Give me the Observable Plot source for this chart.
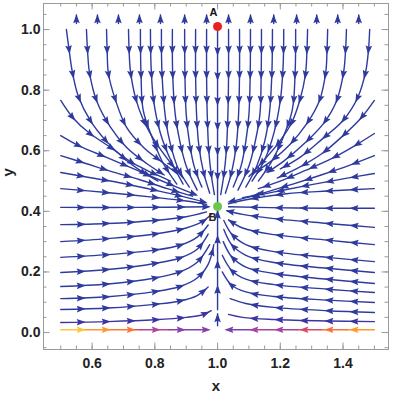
<!DOCTYPE html>
<html><head><meta charset="utf-8">
<script src="https://cdn.jsdelivr.net/npm/d3@7"></script>
<script src="https://cdn.jsdelivr.net/npm/@observablehq/plot@0.6"></script>
<style>body{margin:0;background:#fff} svg{display:block}</style>
</head><body><div id="chart"></div>
<script>
// ---------- data ----------
const xTickLabels = [0.6, 0.8, 1.0, 1.2, 1.4];
const yTickLabels = [0.0, 0.2, 0.4, 0.6, 0.8, 1.0];
const xMinorTicks = d3.range(0, 21).map(i => +(0.5 + i * 0.05).toFixed(2));
const yMinorTicks = d3.range(0, 23).map(i => +(-0.05 + i * 0.05).toFixed(2));

const pointNames = ["A", "B"];
const pointX = [1.0, 1.0];
const pointY = [1.01, 0.416];

// streamlines, listed in flow direction, [x, y]
const topLeftLines = [
  [[0.518,1.0],[0.527,0.93],[0.537,0.86],[0.556,0.78],[0.594,0.70],[0.642,0.635],[0.707,0.57],[0.76,0.53],[0.81,0.50]],
  [[0.582,1.0],[0.586,0.92],[0.592,0.855],[0.614,0.766],[0.659,0.677],[0.71,0.611],[0.774,0.558],[0.83,0.52]],
  [[0.646,1.0],[0.648,0.93],[0.652,0.855],[0.675,0.766],[0.71,0.677],[0.764,0.611],[0.82,0.565],[0.87,0.525]],
  [[0.716,1.0],[0.718,0.93],[0.722,0.865],[0.738,0.776],[0.764,0.70],[0.805,0.624],[0.85,0.56],[0.89,0.51]],
  [[0.754,1.0],[0.756,0.85],[0.763,0.733],[0.795,0.634],[0.827,0.558],[0.87,0.49]],
  [[0.786,1.0],[0.788,0.88],[0.796,0.766],[0.818,0.657],[0.85,0.57],[0.89,0.49]],
  [[0.821,1.0],[0.823,0.85],[0.835,0.70],[0.85,0.62],[0.873,0.545],[0.91,0.48]],
  [[0.856,1.0],[0.857,0.85],[0.865,0.72],[0.88,0.63],[0.90,0.55],[0.935,0.47]],
  [[0.895,1.0],[0.896,0.85],[0.90,0.72],[0.91,0.63],[0.925,0.55],[0.95,0.48]],
  [[0.93,1.0],[0.93,0.85],[0.933,0.72],[0.94,0.62],[0.955,0.53],[0.975,0.46]],
  [[0.965,1.0],[0.965,0.85],[0.967,0.72],[0.972,0.60],[0.98,0.52],[0.99,0.455]]
];
const topRightLines = [
  [[1.035,1.0],[1.035,0.85],[1.033,0.72],[1.028,0.60],[1.02,0.52],[1.01,0.455]],
  [[1.07,1.0],[1.07,0.85],[1.067,0.72],[1.06,0.62],[1.045,0.53],[1.025,0.46]],
  [[1.105,1.0],[1.104,0.85],[1.10,0.72],[1.09,0.63],[1.075,0.55],[1.05,0.48]],
  [[1.14,1.0],[1.139,0.85],[1.135,0.72],[1.12,0.63],[1.10,0.55],[1.065,0.47]],
  [[1.175,1.0],[1.173,0.85],[1.165,0.72],[1.15,0.63],[1.125,0.55],[1.09,0.48]],
  [[1.211,1.0],[1.209,0.88],[1.20,0.766],[1.18,0.66],[1.15,0.57],[1.11,0.50]],
  [[1.249,1.0],[1.247,0.85],[1.238,0.733],[1.205,0.634],[1.17,0.56],[1.13,0.50]],
  [[1.287,1.0],[1.285,0.93],[1.28,0.85],[1.262,0.766],[1.235,0.69],[1.19,0.62],[1.14,0.56],[1.10,0.515]],
  [[1.351,1.0],[1.349,0.93],[1.345,0.86],[1.325,0.766],[1.285,0.69],[1.23,0.62],[1.17,0.565],[1.12,0.53]],
  [[1.411,1.0],[1.408,0.93],[1.402,0.86],[1.38,0.766],[1.34,0.693],[1.28,0.627],[1.21,0.565],[1.16,0.53]],
  [[1.485,1.0],[1.481,0.93],[1.472,0.86],[1.447,0.776],[1.40,0.70],[1.335,0.64],[1.265,0.58],[1.20,0.54]]
];
const centerLines = [
  [[1.0,0.995],[1.0,0.43]],
  [[1.0,0.075],[1.0,0.40]],
  [[1.0,0.022],[1.0,0.062]]
];
const upArrowX = [0.55,0.617,0.684,0.751,0.818,0.895,0.965,1.035,1.105,1.179,1.252,1.316,1.383,1.45];
const upArrowY = [1.02, 1.048];

const sideLeftLines = [
  [[0.5,0.766],[0.538,0.71],[0.589,0.66],[0.659,0.611],[0.732,0.558],[0.796,0.525],[0.85,0.50]],
  [[0.5,0.65],[0.557,0.617],[0.646,0.578],[0.722,0.545],[0.80,0.51],[0.87,0.48],[0.93,0.455]],
  [[0.5,0.584],[0.58,0.558],[0.66,0.532],[0.75,0.505],[0.84,0.475],[0.92,0.45]],
  [[0.5,0.528],[0.6,0.51],[0.7,0.492],[0.8,0.47],[0.9,0.446],[0.96,0.43]],
  [[0.5,0.475],[0.646,0.462],[0.80,0.446],[0.90,0.434],[0.965,0.423]],
  [[0.5,0.413],[0.75,0.413],[0.97,0.415]]
];
const sideRightLines = [
  [[1.5,0.766],[1.459,0.71],[1.395,0.645],[1.332,0.59],[1.26,0.545],[1.19,0.51]],
  [[1.5,0.657],[1.43,0.612],[1.36,0.572],[1.28,0.535],[1.2,0.50],[1.13,0.475]],
  [[1.5,0.584],[1.42,0.552],[1.33,0.52],[1.24,0.49],[1.15,0.462],[1.08,0.445]],
  [[1.5,0.525],[1.40,0.507],[1.30,0.488],[1.20,0.468],[1.10,0.447],[1.04,0.432]],
  [[1.5,0.475],[1.35,0.467],[1.22,0.458],[1.10,0.44],[1.035,0.425]],
  [[1.5,0.41],[1.25,0.411],[1.035,0.415]]
];
const bottomLeftLines = [
  [[0.5,0.356],[0.65,0.36],[0.8,0.37],[0.9,0.382],[0.965,0.398]],
  [[0.5,0.30],[0.65,0.31],[0.8,0.325],[0.9,0.345],[0.95,0.365],[0.982,0.392]],
  [[0.5,0.248],[0.65,0.257],[0.8,0.272],[0.88,0.288],[0.935,0.315],[0.97,0.355]],
  [[0.5,0.198],[0.65,0.208],[0.8,0.228],[0.88,0.246],[0.935,0.275],[0.97,0.325]],
  [[0.5,0.152],[0.65,0.16],[0.8,0.18],[0.88,0.2],[0.935,0.232],[0.975,0.29]],
  [[0.5,0.112],[0.65,0.118],[0.8,0.135],[0.88,0.152],[0.935,0.18],[0.97,0.225],[0.988,0.29]],
  [[0.5,0.076],[0.65,0.081],[0.8,0.093],[0.88,0.104],[0.935,0.122],[0.97,0.15]],
  [[0.5,0.033],[0.65,0.036],[0.8,0.042],[0.9,0.05],[0.95,0.058],[0.98,0.072]]
];
const bottomRightLines = [
  [[1.5,0.347],[1.35,0.36],[1.18,0.376],[1.08,0.39],[1.03,0.402]],
  [[1.5,0.29],[1.35,0.305],[1.18,0.323],[1.08,0.345],[1.035,0.372]],
  [[1.5,0.234],[1.35,0.248],[1.18,0.267],[1.09,0.29],[1.045,0.325],[1.02,0.37]],
  [[1.5,0.198],[1.35,0.212],[1.18,0.231],[1.09,0.255],[1.045,0.29],[1.02,0.34]],
  [[1.5,0.162],[1.35,0.176],[1.18,0.195],[1.09,0.216],[1.045,0.25],[1.018,0.30]],
  [[1.5,0.132],[1.35,0.143],[1.18,0.158],[1.09,0.176],[1.045,0.205],[1.015,0.255]],
  [[1.5,0.099],[1.35,0.107],[1.18,0.119],[1.09,0.134],[1.045,0.156],[1.015,0.20]],
  [[1.5,0.066],[1.35,0.072],[1.18,0.083],[1.09,0.096],[1.04,0.112]],
  [[1.5,0.036],[1.35,0.038],[1.18,0.043],[1.08,0.05],[1.035,0.06]]
];
// invariant line y ~ 0, coloured by speed
const axisLineY = 0.009;
const bottomLeftBreaks = [0.5, 0.565, 0.65, 0.73, 0.755, 0.845, 0.97];
const bottomLeftSpeed  = [0.5, 0.4, 0.33, 0.27, 0.2, 0.12];
const bottomRightBreaks = [1.5, 1.414, 1.33, 1.255, 1.11, 1.03];
const bottomRightSpeed  = [0.4, 0.32, 0.25, 0.18, 0.1];

// ---------- styles ----------
const blue = "#2e3a9e";
const blueViolet = "#3d33a3";
const speedColor = d3.scaleLinear()
  .domain([0, 0.1, 0.2, 0.27, 0.33, 0.4, 0.5])
  .range(["#2e3a9e", "#7c40aa", "#b1449d", "#e84b55", "#ff7636", "#ff992e", "#ffc43c"]);

const W = 394, H = 393, mL = 43, mR = 6, mT = 3, mB = 44;
const xDomain = [0.445, 1.545], yDomain = [-0.056, 1.086];
const xs = d3.scaleLinear(xDomain, [mL, W - mR]);
const ys = d3.scaleLinear(yDomain, [H - mB, mT]);

// ---------- build tables ----------
const lineRows = [];
const arrowRows = [];
let lid = 0;
const tmpSvg = d3.select("body").append("svg").attr("width", 0).attr("height", 0).style("position", "absolute");
const tmpPath = tmpSvg.append("path").node();
const lineGen = d3.line().curve(d3.curveCatmullRom);

function addLine(pts, colorFn) {
  const id = lid++;
  pts.forEach(([x, y]) => lineRows.push({id, x, y, c: colorFn(x)}));
}
function addArrows(pts, colorFn) {
  tmpPath.setAttribute("d", lineGen(pts.map(([x, y]) => [xs(x), ys(y)])));
  const L = tmpPath.getTotalLength();
  const pos = [];
  if (L < 24) pos.push(Math.max(L - 4.5, L / 2));
  else for (let s = 20; s <= L - 2; s += 25) pos.push(s);
  for (const s of pos) {
    const p = tmpPath.getPointAtLength(s);
    const a = tmpPath.getPointAtLength(Math.max(0, s - 1.5));
    const b = tmpPath.getPointAtLength(Math.min(L, s + 1.5));
    const x = xs.invert(p.x), y = ys.invert(p.y);
    arrowRows.push({x, y, angle: Math.atan2(b.y - a.y, b.x - a.x) * 180 / Math.PI, c: colorFn(x)});
  }
}
function addStream(pts, color) {
  addLine(pts, () => color);
  addArrows(pts, () => color);
}
[...topLeftLines, ...topRightLines, ...centerLines, ...sideLeftLines, ...sideRightLines]
  .forEach(p => addStream(p, blue));
upArrowX.forEach(x => addStream([[x, upArrowY[0]], [x, upArrowY[1]]], blue));
bottomLeftLines.forEach((p, i) => addStream(p, i === bottomLeftLines.length - 1 ? blueViolet : blue));
bottomRightLines.forEach((p, i) => addStream(p, i === bottomRightLines.length - 1 ? blueViolet : blue));

function colouredAxisLine(breaks, speeds) {
  const segColor = x => {
    for (let i = 0; i < speeds.length; i++) {
      const lo = Math.min(breaks[i], breaks[i + 1]), hi = Math.max(breaks[i], breaks[i + 1]);
      if (x >= lo - 1e-9 && x <= hi + 1e-9) return speedColor(speeds[i]);
    }
    return speedColor(speeds[speeds.length - 1]);
  };
  for (let i = 0; i < speeds.length; i++) {
    const col = speedColor(speeds[i]);
    addLine([[breaks[i], axisLineY], [breaks[i + 1], axisLineY]], () => col);
  }
  addArrows([[breaks[0], axisLineY], [breaks[breaks.length - 1], axisLineY]], segColor);
}
colouredAxisLine(bottomLeftBreaks, bottomLeftSpeed);
colouredAxisLine(bottomRightBreaks, bottomRightSpeed);
tmpSvg.remove();

const arrowSymbol = {
  draw(ctx) {
    ctx.moveTo(5, 0);
    ctx.lineTo(-4, 3.3);
    ctx.lineTo(-2.6, 0);
    ctx.lineTo(-4, -3.3);
    ctx.closePath();
  }
};

const points = pointNames.map((n, i) => ({n, x: pointX[i], y: pointY[i]}));
const frameGray = "#9a9a9a";
const innerH = H - mT - mB, innerW = W - mL - mR;

const chart = Plot.plot({
  width: W, height: H,
  marginLeft: mL, marginRight: mR, marginTop: mT, marginBottom: mB,
  style: {fontFamily: "'Liberation Sans', Arial, sans-serif", fontSize: "14px", fontWeight: "bold", color: "#222", background: "#fff"},
  x: {domain: xDomain, ticks: xTickLabels, tickSize: 0, tickPadding: 9, tickFormat: ".1f", label: null},
  y: {domain: yDomain, ticks: yTickLabels, tickSize: 0, tickPadding: 3, tickFormat: ".1f", label: null},
  marks: [
    Plot.frame({stroke: frameGray}),
    Plot.ruleX(xMinorTicks, {insetTop: innerH - 3.5, stroke: frameGray}),
    Plot.ruleX(xMinorTicks, {insetBottom: innerH - 3.5, stroke: frameGray}),
    Plot.ruleX(xTickLabels, {insetTop: innerH - 6.5, stroke: frameGray}),
    Plot.ruleX(xTickLabels, {insetBottom: innerH - 6.5, stroke: frameGray}),
    Plot.ruleY(yMinorTicks, {insetRight: innerW - 3.5, stroke: frameGray}),
    Plot.ruleY(yMinorTicks, {insetLeft: innerW - 3.5, stroke: frameGray}),
    Plot.ruleY(yTickLabels, {insetRight: innerW - 6.5, stroke: frameGray}),
    Plot.ruleY(yTickLabels, {insetLeft: innerW - 6.5, stroke: frameGray}),
    Plot.line(lineRows, {x: "x", y: "y", z: "id", stroke: "c", strokeWidth: 1.4, curve: "catmull-rom"}),
    Plot.dot(arrowRows, {x: "x", y: "y", rotate: "angle", symbol: arrowSymbol, r: 3, fill: "c", stroke: null}),
    Plot.dot(points, {x: "x", y: "y", r: 4.5, fill: d => d.n === "A" ? "#e8231f" : "#6cc64a", stroke: null}),
    Plot.text(points.filter(d => d.n === "A"), {x: "x", y: "y", text: "n", dx: -4, dy: -14, fontSize: 11, fontWeight: "bold", fill: "#111"}),
    Plot.text(points.filter(d => d.n === "B"), {x: "x", y: "y", text: "n", dx: -5, dy: 11, fontSize: 11, fontWeight: "bold", fill: "#222"}),
    Plot.text(["x"], {frameAnchor: "bottom", dy: 37, lineAnchor: "middle", fontSize: 15, fontWeight: "bold", fill: "#222"}),
    Plot.text(["y"], {frameAnchor: "left", dx: -35, rotate: -90, lineAnchor: "middle", fontSize: 15, fontWeight: "bold", fill: "#222"})
  ]
});
document.getElementById("chart").appendChild(chart);
</script></body></html>
